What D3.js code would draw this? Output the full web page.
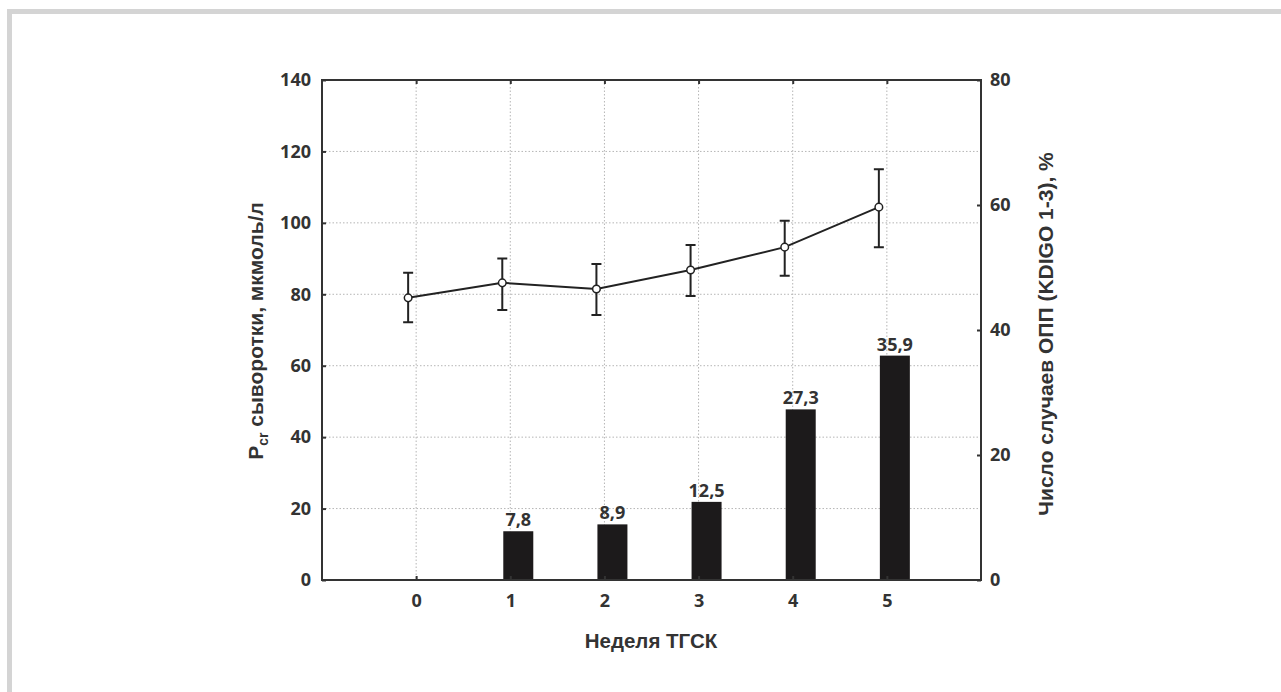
<!DOCTYPE html>
<html>
<head>
<meta charset="utf-8">
<script src="https://cdn.jsdelivr.net/npm/d3@7"></script>
<style>
  body { margin: 0; background: #fff; }
  svg text { fill: #333; }
</style>
</head>
<body>
<svg id="chart" width="1281" height="692"></svg>
<script>
// data
var weeks = [0, 1, 2, 3, 4, 5];
var creatMean = [79, 83.2, 81.5, 86.8, 93.2, 104.4];
var creatHigh = [86, 90, 88.5, 93.8, 100.6, 115];
var creatLow = [72.2, 75.6, 74.2, 79.5, 85.2, 93.2];
var barWeeks = [1, 2, 3, 4, 5];
var aki = [7.8, 8.9, 12.5, 27.3, 35.9];
var akiLabels = ["7,8", "8,9", "12,5", "27,3", "35,9"];
var leftTicks = [0, 20, 40, 60, 80, 100, 120, 140];
var rightTicks = [0, 20, 40, 60, 80];

var svg = d3.select('#chart');

// grey page frame
svg.append('path')
    .attr('d', 'M9.5,692 V11.5 H1281')
    .attr('fill', 'none')
    .attr('stroke', '#d4d4d4')
    .attr('stroke-width', 5);

var pLeft = 322, pRight = 981, pTop = 80, pBottom = 580;

var x = d3.scaleLinear().domain([-1, 6]).range([pLeft, pRight]);
var y = d3.scaleLinear().domain([0, 140]).range([pBottom, pTop]);
var y2 = d3.scaleLinear().domain([0, 80]).range([pBottom, pTop]);

var g = svg.append('g');

// dotted grid
g.selectAll('.vgrid')
  .data(weeks)
  .enter().append('line')
    .attr('x1', function(d) { return x(d); })
    .attr('x2', function(d) { return x(d); })
    .attr('y1', pTop).attr('y2', pBottom)
    .attr('stroke', '#b5b5b5')
    .attr('stroke-dasharray', '1.5,2');

g.selectAll('.hgrid')
  .data(leftTicks.slice(1, -1))
  .enter().append('line')
    .attr('x1', pLeft).attr('x2', pRight)
    .attr('y1', function(d) { return y(d); })
    .attr('y2', function(d) { return y(d); })
    .attr('stroke', '#b5b5b5')
    .attr('stroke-dasharray', '1.5,2');

// bars (shifted a bit right of the week tick)
var barW = 30, barShift = 8;
g.selectAll('.bar')
  .data(aki)
  .enter().append('rect')
    .attr('x', function(d, i) { return x(barWeeks[i]) + barShift - barW / 2; })
    .attr('y', function(d) { return y2(d); })
    .attr('width', barW)
    .attr('height', function(d) { return pBottom - y2(d); })
    .attr('fill', '#1c1a1b');

g.selectAll('.barlabel')
  .data(aki)
  .enter().append('text')
    .attr('x', function(d, i) { return x(barWeeks[i]) + barShift; })
    .attr('y', function(d) { return y2(d) - 5; })
    .attr('text-anchor', 'middle')
    .style('font', 'bold 18px "Open Sans", sans-serif')
    .text(function(d, i) { return akiLabels[i]; });

// line with error bars (shifted a bit left)
var ptShift = -8;
var px = function(i) { return x(weeks[i]) + ptShift; };

g.selectAll('.err')
  .data(weeks)
  .enter().append('path')
    .attr('d', function(d, i) {
      var cx = px(i), hi = y(creatHigh[i]), lo = y(creatLow[i]);
      return 'M' + cx + ',' + hi + 'V' + lo +
             'M' + (cx - 5) + ',' + hi + 'H' + (cx + 5) +
             'M' + (cx - 5) + ',' + lo + 'H' + (cx + 5);
    })
    .attr('fill', 'none')
    .attr('stroke', '#222')
    .attr('stroke-width', 2);

var line = d3.line()
    .x(function(d, i) { return px(i); })
    .y(function(d) { return y(d); });

g.append('path')
    .datum(creatMean)
    .attr('d', line)
    .attr('fill', 'none')
    .attr('stroke', '#222')
    .attr('stroke-width', 2);

g.selectAll('.pt')
  .data(creatMean)
  .enter().append('circle')
    .attr('cx', function(d, i) { return px(i); })
    .attr('cy', function(d) { return y(d); })
    .attr('r', 3.8)
    .attr('fill', '#fff')
    .attr('stroke', '#222')
    .attr('stroke-width', 1.5);

// axes with inward ticks
var tickFont = 'bold 18px "Open Sans", sans-serif';

var yAxis = g.append('g')
    .attr('transform', 'translate(' + pLeft + ',0)')
    .call(d3.axisLeft(y).tickValues(leftTicks).tickSize(-4).tickPadding(11));
var y2Axis = g.append('g')
    .attr('transform', 'translate(' + pRight + ',0)')
    .call(d3.axisRight(y2).tickValues(rightTicks).tickSize(-4).tickPadding(9));
var xAxis = g.append('g')
    .attr('transform', 'translate(0,' + pBottom + ')')
    .call(d3.axisBottom(x).tickValues(weeks).tickFormat(d3.format('d')).tickSize(-4).tickPadding(14));
var xTop = g.append('g')
    .attr('transform', 'translate(0,' + pTop + ')')
    .call(d3.axisTop(x).tickValues(weeks).tickSize(-4).tickFormat(''));

[yAxis, y2Axis, xAxis, xTop].forEach(function(a) {
  a.select('.domain').remove();
  a.selectAll('.tick line').attr('stroke', '#333').attr('stroke-width', 2);
  a.selectAll('text').style('font', tickFont).attr('fill', '#333');
});

// plot frame
g.append('rect')
    .attr('x', pLeft).attr('y', pTop)
    .attr('width', pRight - pLeft).attr('height', pBottom - pTop)
    .attr('fill', 'none')
    .attr('stroke', '#333')
    .attr('stroke-width', 2);

// titles
svg.append('text')
    .attr('x', 651).attr('y', 648)
    .attr('text-anchor', 'middle')
    .style('font', 'bold 20.5px "Liberation Sans", Arial, sans-serif')
    .text('Неделя ТГСК');

var yTitleFont = 'bold 21px "Liberation Sans", Arial, sans-serif';

var yl = svg.append('text')
    .attr('transform', 'translate(263,331) rotate(-90)')
    .attr('text-anchor', 'middle')
    .style('font', yTitleFont);
yl.append('tspan').text('P');
yl.append('tspan').attr('dy', 5).style('font-size', '14px').text('cr');
yl.append('tspan').attr('dy', -5).text(' сыворотки, мкмоль/л');

svg.append('text')
    .attr('transform', 'translate(1053,334) rotate(-90)')
    .attr('text-anchor', 'middle')
    .style('font', yTitleFont)
    .text('Число случаев ОПП (KDIGO 1-3), %');
</script>
</body>
</html>
